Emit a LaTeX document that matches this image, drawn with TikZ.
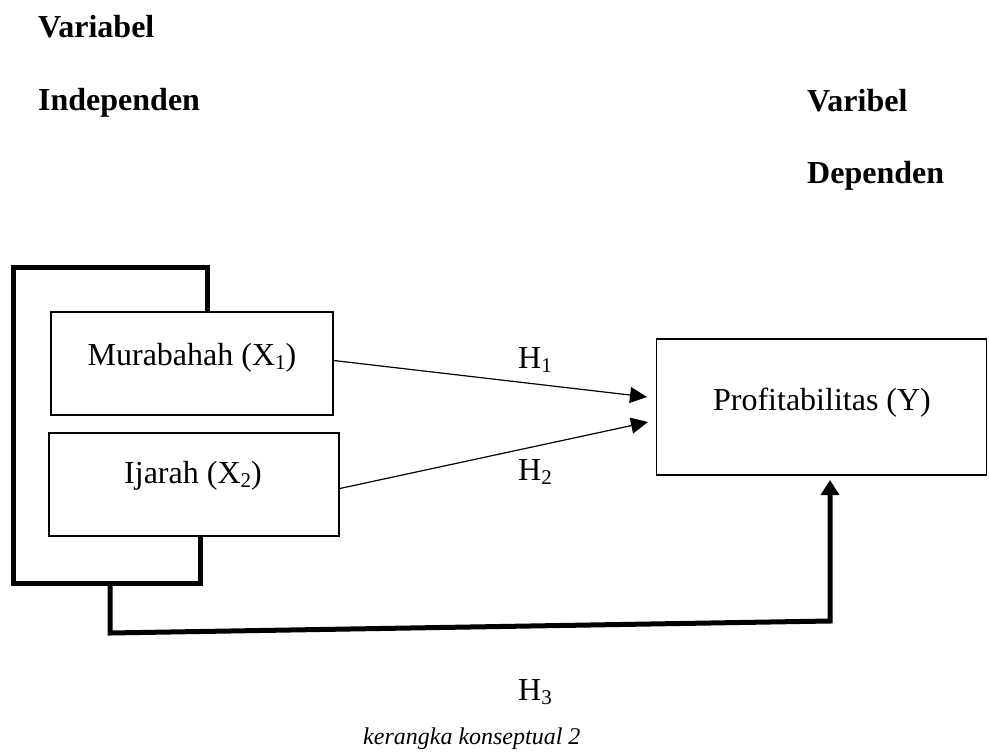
\documentclass[tikz,border=0pt]{standalone}
\usepackage{fontspec}
\setmainfont{Liberation Serif}
\usetikzlibrary{arrows.meta}
\newcommand\lowsub[1]{\raisebox{-0.14em}{\fontsize{21}{21}\selectfont #1}}
\begin{document}
\begin{tikzpicture}[x=1pt,y=-1pt,
  txt/.style={inner sep=0pt,font=\fontsize{32}{38}\selectfont},
  head/.style={inner sep=0pt,anchor=base west,font=\fontsize{32}{38}\selectfont\bfseries},
  boxx/.style={draw,line width=1.6pt,inner sep=0pt},
  thick5/.style={line width=5pt},
  thinarrow/.style={line width=1.2pt,-{Triangle[length=17pt,width=16pt]}},
  caption/.style={inner sep=0pt,anchor=base west,font=\fontsize{24}{28}\selectfont\itshape}]
\useasboundingbox (0,0) rectangle (989,753);
% headings
\node[head] (v1) at (38,37) {Variabel};
\node[head] (v2) at (38,110) {Independen};
\node[head] (d1) at (807,111) {Varibel};
\node[head] (d2) at (807,183) {Dependen};
% boxes
\node[boxx,minimum width=282pt,minimum height=103pt] (m) at (192,363.5) {};
\node[boxx,minimum width=290pt,minimum height=103pt] (i) at (194,484.5) {};
\node[boxx,minimum width=330pt,minimum height=136pt] (p) at (821.5,407) {};
\node[txt,anchor=base] (mt) at (192,365) {Murabahah (X\lowsub{1})};
\node[txt,anchor=base] (it) at (193,483) {Ijarah (X\lowsub{2})};
\node[txt,anchor=base] (pt) at (822,410) {Profitabilitas (Y)};
% arrow labels
\node[txt,anchor=base west] (h1) at (518,368) {H\lowsub{1}};
\node[txt,anchor=base west] (h2) at (518,480) {H\lowsub{2}};
\node[txt,anchor=base west] (h3) at (518,700) {H\lowsub{3}};
\node[caption] (cap) at (363,744) {kerangka konseptual 2};
% coordinates
\coordinate (bt) at (207,267);
\coordinate (tl) at (13,267);
\coordinate (bl) at (13,583);
\coordinate (bb) at (200,583);
\coordinate (bs) at (110,583);
\coordinate (lb) at (110,633);
\coordinate (rb) at (830,621);
\coordinate (up) at (830,480);
\coordinate (a1) at (647,397);
\coordinate (a2) at (648,422);
% bracket
\draw[thick5] (m.north -| bt) -- (bt) -- (tl) -- (bl) -- (bb) -- (i.south -| bb);
\draw[thick5,-{Triangle[length=15pt,width=18pt]}] (bs) -- (lb) -- (rb) -- (up);
% arrows
\draw[thinarrow] ([yshift=3pt]m.east) -- (a1);
\draw[thinarrow] ([yshift=-4pt]i.east) -- (a2);
\end{tikzpicture}
\end{document}
